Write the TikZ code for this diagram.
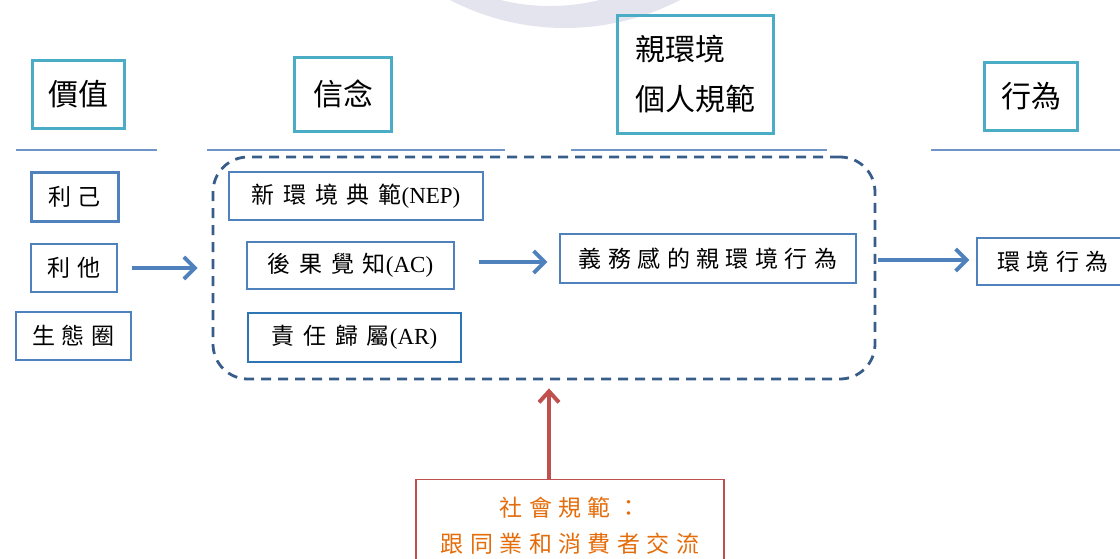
\documentclass[tikz,border=0pt]{standalone}
\usepackage{fontspec}
\setmainfont{Liberation Serif}
\newfontfamily\cjk{Noto Sans CJK TC}
\newfontfamily\cjksp[LetterSpace=28]{Noto Sans CJK TC}
\newfontfamily\cjkwide[LetterSpace=38]{Noto Sans CJK TC}
\usetikzlibrary{arrows.meta}
\definecolor{hdrc}{HTML}{4BACC6}
\definecolor{boxc}{HTML}{4F81BD}
\definecolor{arbox}{HTML}{2E75B6}
\definecolor{dashc}{HTML}{385D8A}
\definecolor{arrc}{HTML}{4F81BD}
\definecolor{redc}{HTML}{C0504D}
\definecolor{orc}{HTML}{E46C0A}
\definecolor{wmc}{HTML}{E4E4EF}
\definecolor{ulc}{HTML}{6F95C8}
\tikzset{
  hdr/.style={draw=hdrc, line width=3pt, inner sep=0pt, font=\cjk\fontsize{30}{36}\selectfont},
  lbox/.style={draw=boxc, line width=1.4pt, inner sep=0pt, font=\fontsize{23}{28}\selectfont},
  grpbox/.style={draw=dashc, line width=2.8pt, dash pattern=on 10pt off 7pt, rounded corners=35pt, inner sep=0pt},
  arr/.style={draw=arrc, line width=3.8pt, -{Straight Barb[length=11pt,width=22pt]}},
  redarr/.style={draw=redc, line width=4pt, -{Straight Barb[length=11pt,width=20pt]}},
  uline/.style={draw=ulc, line width=1.2pt},
  socbox/.style={draw=redc, line width=1.4pt, inner sep=0pt, text=orc, align=center, font=\cjksp\fontsize{23}{36}\selectfont}
}
\begin{document}
\begin{tikzpicture}[x=1pt,y=-1pt]
\useasboundingbox (0,0) rectangle (1120,558);
% faint watermark
\begin{scope}
\clip (0,0) rectangle (1120,558);
\fill[wmc, even odd rule] (565,-222) circle (250) (550,-200) circle (206);
\end{scope}
% headers
\node[hdr, minimum width=92pt, minimum height=68pt] (jz) at (78,94) {價值};
\node[hdr, minimum width=97pt, minimum height=74pt] (xn) at (343,94) {信念};
\node[hdr, minimum width=156pt, minimum height=118pt, align=left, font=\cjk\fontsize{30}{50}\selectfont] (qhj) at (695,74) {親環境\\個人規範};
\node[hdr, minimum width=93pt, minimum height=68pt] (xw) at (1031,96) {行為};
% underlines
\draw[uline] (16,150) -- (157,150);
\draw[uline] (207,150) -- (505,150);
\draw[uline] (571,150) -- (827,150);
\draw[uline] (931,150) -- (1120,150);
% left column
\node[lbox, line width=3pt, minimum width=87pt, minimum height=49pt] (lj) at (74.5,196.5) {\cjksp 利己};
\node[lbox, minimum width=86pt, minimum height=48pt] (lt) at (74,268) {\cjksp 利他};
\node[lbox, minimum width=115pt, minimum height=48pt] (stq) at (73.5,336) {\cjksp 生態圈};
% group
\node[grpbox, minimum width=662pt, minimum height=222pt] (grp) at (544,268) {};
\node[lbox, minimum width=254pt, minimum height=48pt] (nep) at (356,196) {{\cjkwide 新環境典範}(NEP)};
\node[lbox, minimum width=207pt, minimum height=47pt] (ac) at (350.5,265.5) {{\cjkwide 後果覺知}(AC)};
\node[lbox, draw=arbox, minimum width=213pt, minimum height=49pt] (ar) at (354.5,337.5) {{\cjkwide 責任歸屬}(AR)};
\node[lbox, minimum width=296pt, minimum height=49pt] (yw) at (708,258.5) {\cjksp 義務感的親環境行為};
\node[lbox, minimum width=152pt, minimum height=47pt] (hjxw) at (1053,261.5) {\cjksp 環境行為};
% social norm
\node[socbox, minimum width=308pt, minimum height=92pt, anchor=north] (soc) at (570,479) {社會規範：\\跟同業和消費者交流};
% arrows
\draw[arr, shorten <=14pt, shorten >=14pt] (lt.east) -- (lt.east -| grp.west);
\draw[arr, shorten <=24pt, shorten >=12pt] (ac.east |- yw.west) ++(0,3.5) -- (yw.west |- 0,262);
\draw[arr, shorten <=2pt, shorten >=7pt] (grp.east |- hjxw.west) ++(0,-1.5) -- (hjxw.west |- 0,260);
\draw[redarr, shorten >=8pt] ([xshift=-21pt]soc.north) -- ([xshift=-21pt]soc.north |- grp.south);
\end{tikzpicture}
\end{document}
